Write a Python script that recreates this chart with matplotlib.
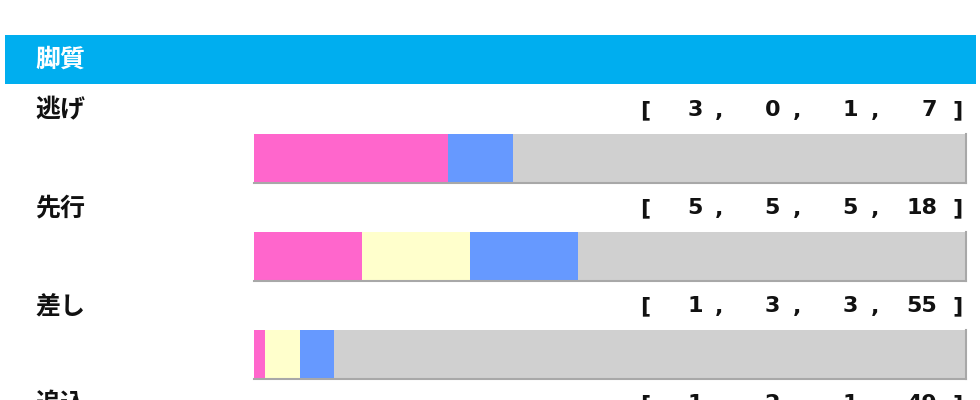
import matplotlib
matplotlib.use("Agg")
import matplotlib.pyplot as plt
from matplotlib.patches import Rectangle

plt.rcParams['font.family'] = ['Noto Sans CJK JP', 'DejaVu Sans']

title = '脚質'
categories = ['逃げ', '先行', '差し', '追込']
first = [3, 5, 1, 1]
second = [0, 5, 3, 2]
third = [1, 5, 3, 1]
other = [7, 18, 55, 49]

colors = ['#FF66CC', '#FFFFCC', '#6699FF', '#D0D0D0']

W, H = 980, 400
fig = plt.figure(figsize=(W / 100, H / 100), dpi=100)
bg = fig.add_axes([0, 0, 1, 1])
bg.set_xlim(0, W)
bg.set_ylim(H, 0)
bg.axis('off')

# header
bg.add_patch(Rectangle((5, 35), 971, 49, facecolor='#00AEEF', edgecolor='none'))
bg.text(35, 60, title, color='white', fontsize=18, fontweight='bold',
        va='center', ha='left')

row0 = 110
step = 98
num_right = [703, 780, 858, 937]
comma_x = [719, 797, 875]

for i, cat in enumerate(categories):
    yc = row0 + step * i
    bg.text(35, yc, cat, fontsize=18, fontweight='bold', va='center', ha='left',
            color='#111111')
    vals = [first[i], second[i], third[i], other[i]]
    bg.text(645, yc, '[', fontsize=16, fontweight='bold', va='center', ha='center',
            family='DejaVu Sans', color='#111111')
    bg.text(958, yc, ']', fontsize=16, fontweight='bold', va='center', ha='center',
            family='DejaVu Sans', color='#111111')
    for k, v in enumerate(vals):
        bg.text(num_right[k], yc, str(v), fontsize=16, fontweight='bold',
                va='center', ha='right', family='DejaVu Sans', color='#111111')
    for cx in comma_x:
        bg.text(cx, yc + 1, ',', fontsize=16, fontweight='bold', va='center',
                ha='center', family='DejaVu Sans', color='#111111')

    # stacked bar
    top = 134 + step * i
    bh = 49
    ax = fig.add_axes([254 / W, 1 - (top + bh) / H, 712 / W, bh / H])
    total = sum(vals)
    left = 0
    for v, c in zip(vals, colors):
        ax.barh([0], [v], left=left, height=1, color=c, edgecolor='none')
        left += v
    ax.set_xlim(0, total)
    ax.set_ylim(-0.5, 0.5)
    ax.set_xticks([])
    ax.set_yticks([])
    for s in ['left', 'top']:
        ax.spines[s].set_visible(False)
    for s in ['bottom', 'right']:
        ax.spines[s].set_color('#A8A8A8')
        ax.spines[s].set_linewidth(1.5)

fig.savefig('out.png', dpi=100, facecolor='white')
